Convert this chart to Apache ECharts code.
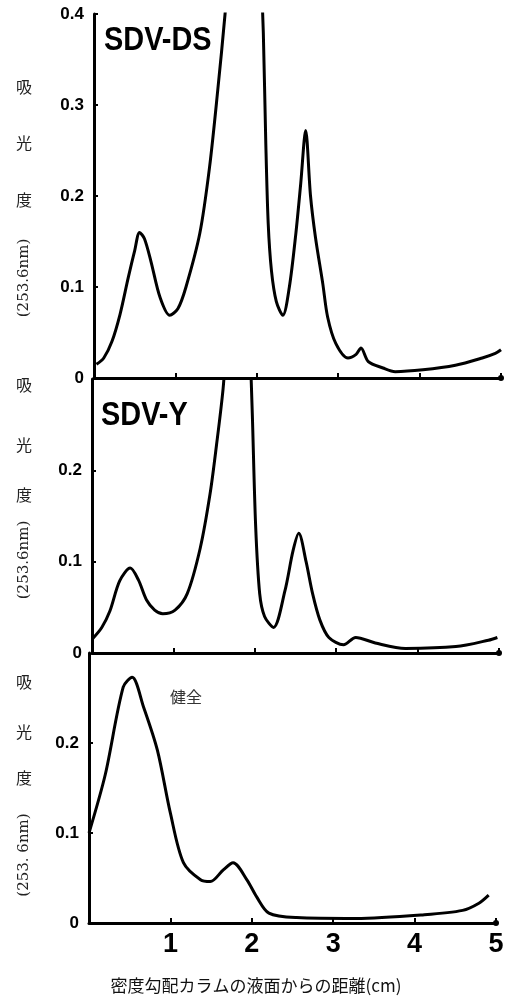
<!DOCTYPE html>
<html>
<head>
<meta charset="utf-8">
<script src="https://cdn.jsdelivr.net/npm/echarts@6/dist/echarts.min.js"></script>
<style>
  html, body { margin: 0; padding: 0; background: #fff; }
  #chart { width: 512px; height: 1004px; }
</style>
</head>
<body>
<div id="chart"></div>
<script>
// 距離 (cm) と吸光度, null は図の上端を越えて切れている部分
const dsX = [0.03, 0.12, 0.22, 0.32, 0.42, 0.5, 0.56, 0.62, 0.7, 0.81, 0.93, 1.03, 1.13, 1.3, 1.42, 1.52, 1.61, 1.65, 1.85,
  2.05, 2.08, 2.11, 2.14, 2.18, 2.24, 2.32, 2.4, 2.48, 2.54, 2.6, 2.66, 2.72, 2.81, 2.87, 2.97, 3.12, 3.22, 3.28,
  3.37, 3.55, 3.7, 4.04, 4.44, 4.77, 4.93, 5.0]
const dsY = [0.015, 0.022, 0.04, 0.07, 0.11, 0.14, 0.16, 0.153, 0.128, 0.089, 0.069, 0.076, 0.1, 0.159, 0.232, 0.316, 0.4, 0.45, null,
  0.45, 0.38, 0.26, 0.17, 0.118, 0.084, 0.069, 0.1, 0.159, 0.214, 0.272, 0.2, 0.155, 0.104, 0.067, 0.038, 0.022, 0.026, 0.033,
  0.018, 0.011, 0.007, 0.009, 0.014, 0.022, 0.027, 0.031]

const yX = [0.01, 0.12, 0.22, 0.34, 0.47, 0.57, 0.67, 0.77, 0.87, 1.02, 1.17, 1.33, 1.45, 1.53, 1.61, 1.65, 1.8,
  1.94, 1.97, 2.01, 2.06, 2.12, 2.23, 2.37, 2.47, 2.54, 2.63, 2.71, 2.8, 2.91, 3.09, 3.24, 3.48, 3.85, 4.47, 4.87, 4.98]
const yY = [0.016, 0.028, 0.046, 0.079, 0.093, 0.08, 0.058, 0.047, 0.043, 0.047, 0.065, 0.115, 0.174, 0.228, 0.289, 0.34, null,
  0.34, 0.26, 0.14, 0.065, 0.04, 0.028, 0.068, 0.112, 0.131, 0.1, 0.065, 0.036, 0.017, 0.009, 0.017, 0.011, 0.005, 0.007, 0.014, 0.017]

const kenX = [0.0, 0.2, 0.42, 0.53, 0.67, 0.84, 1.0, 1.16, 1.37, 1.49, 1.65, 1.77, 1.94, 2.06, 2.21, 2.55, 3.28, 4.1, 4.59, 4.79, 4.91]
const kenY = [0.1, 0.165, 0.262, 0.273, 0.24, 0.192, 0.122, 0.067, 0.048, 0.046, 0.059, 0.067, 0.048, 0.029, 0.011, 0.006, 0.005, 0.009, 0.014, 0.022, 0.031]

const panelNames = ['SDV-DS', 'SDV-Y', '健全']
const yMax = [0.4, 0.3, 0.3]
const xTitle = '密度勾配カラムの液面からの距離(cm)'

const toPairs = (xs, ys) => xs.map((x, i) => ys[i] == null ? [x, '-'] : [x, ys[i]])

const grids = [
  { left: 94, top: 14, width: 407, height: 364 },
  { left: 92, top: 379, width: 407, height: 274 },
  { left: 89, top: 653, width: 407, height: 270 }
]

const xAxes = grids.map((g, i) => ({
  type: 'value', gridIndex: i, min: 0, max: 5, interval: 1,
  axisLine: { show: true, lineStyle: { color: '#000', width: 3 }, symbol: ['none', 'circle'], symbolSize: [6, 6] },
  axisTick: { show: true, inside: true, length: 5, lineStyle: { color: '#000', width: 2 } },
  splitLine: { show: false },
  axisLabel: {
    show: i === 2, margin: 8, color: '#000',
    fontFamily: '"Liberation Sans", Arial, sans-serif', fontWeight: 'bold', fontSize: 27,
    formatter: v => v === 0 ? '' : String(v)
  }
}))

const yAxes = grids.map((g, i) => ({
  type: 'value', gridIndex: i, min: 0, max: yMax[i], interval: 0.1,
  axisLine: { show: true, lineStyle: { color: '#000', width: 3 } },
  axisTick: { show: true, inside: true, length: 4, lineStyle: { color: '#000', width: 2 } },
  splitLine: { show: false },
  axisLabel: {
    show: true, margin: 10, color: '#000', showMaxLabel: i === 0,
    fontFamily: '"Liberation Sans", Arial, sans-serif', fontWeight: 'bold', fontSize: 17,
    formatter: v => v === 0 ? '0' : v.toFixed(1)
  }
}))

const lineSeries = [toPairs(dsX, dsY), toPairs(yX, yY), toPairs(kenX, kenY)].map((d, i) => ({
  type: 'line', xAxisIndex: i, yAxisIndex: i, data: d,
  smooth: 0.3, showSymbol: false, connectNulls: false,
  lineStyle: { color: '#000', width: 3 }
}))

// 縦軸のタイトル (吸 光 度 と回転した (253.6nm))
const cjkFont = '16px "Noto Sans CJK JP", sans-serif'
function yTitle(ys, rotY, unit) {
  const chars = ['吸', '光', '度']
  const els = chars.map((c, k) => ({
    type: 'text', x: 24, y: ys[k],
    style: { text: c, font: cjkFont, fill: '#222', textAlign: 'center', textVerticalAlign: 'middle', align: 'center', verticalAlign: 'middle' }
  }))
  els.push({
    type: 'text', x: 24, y: rotY, rotation: Math.PI / 2,
    style: { text: unit, font: '15px "DejaVu Serif", serif', fill: '#222', textAlign: 'center', textVerticalAlign: 'middle', align: 'center', verticalAlign: 'middle' }
  })
  return els
}

const titleStyle = (t) => ({
  text: t, font: 'bold 34px "Liberation Sans", Arial, sans-serif', fill: '#000',
  textAlign: 'left', textVerticalAlign: 'middle', align: 'left', verticalAlign: 'middle'
})

const graphics = [
  { type: 'text', x: 104, y: 41, scaleX: 0.85, style: titleStyle(panelNames[0]) },
  { type: 'text', x: 101, y: 416, scaleX: 0.85, style: titleStyle(panelNames[1]) },
  {
    type: 'text', x: 186, y: 697,
    style: { text: panelNames[2], font: '16px "Noto Sans CJK JP", sans-serif', fill: '#333', textAlign: 'center', textVerticalAlign: 'middle', align: 'center', verticalAlign: 'middle' }
  },
  {
    type: 'text', x: 256, y: 986,
    style: { text: xTitle, font: '17px "Noto Sans CJK JP", sans-serif', fill: '#111', textAlign: 'center', textVerticalAlign: 'middle', align: 'center', verticalAlign: 'middle' }
  }
].concat(
  yTitle([87, 143, 200], 278, '(253.6nm)'),
  yTitle([385, 445, 495], 560, '(253.6nm)'),
  yTitle([682, 732, 778], 855, '(253. 6nm)')
)

const myChart = echarts.init(document.getElementById('chart'))
myChart.setOption({
  backgroundColor: '#fff',
  animation: false,
  grid: grids,
  xAxis: xAxes,
  yAxis: yAxes,
  series: lineSeries,
  graphic: graphics
})
window.addEventListener('resize', () => myChart.resize())
</script>
</body>
</html>
